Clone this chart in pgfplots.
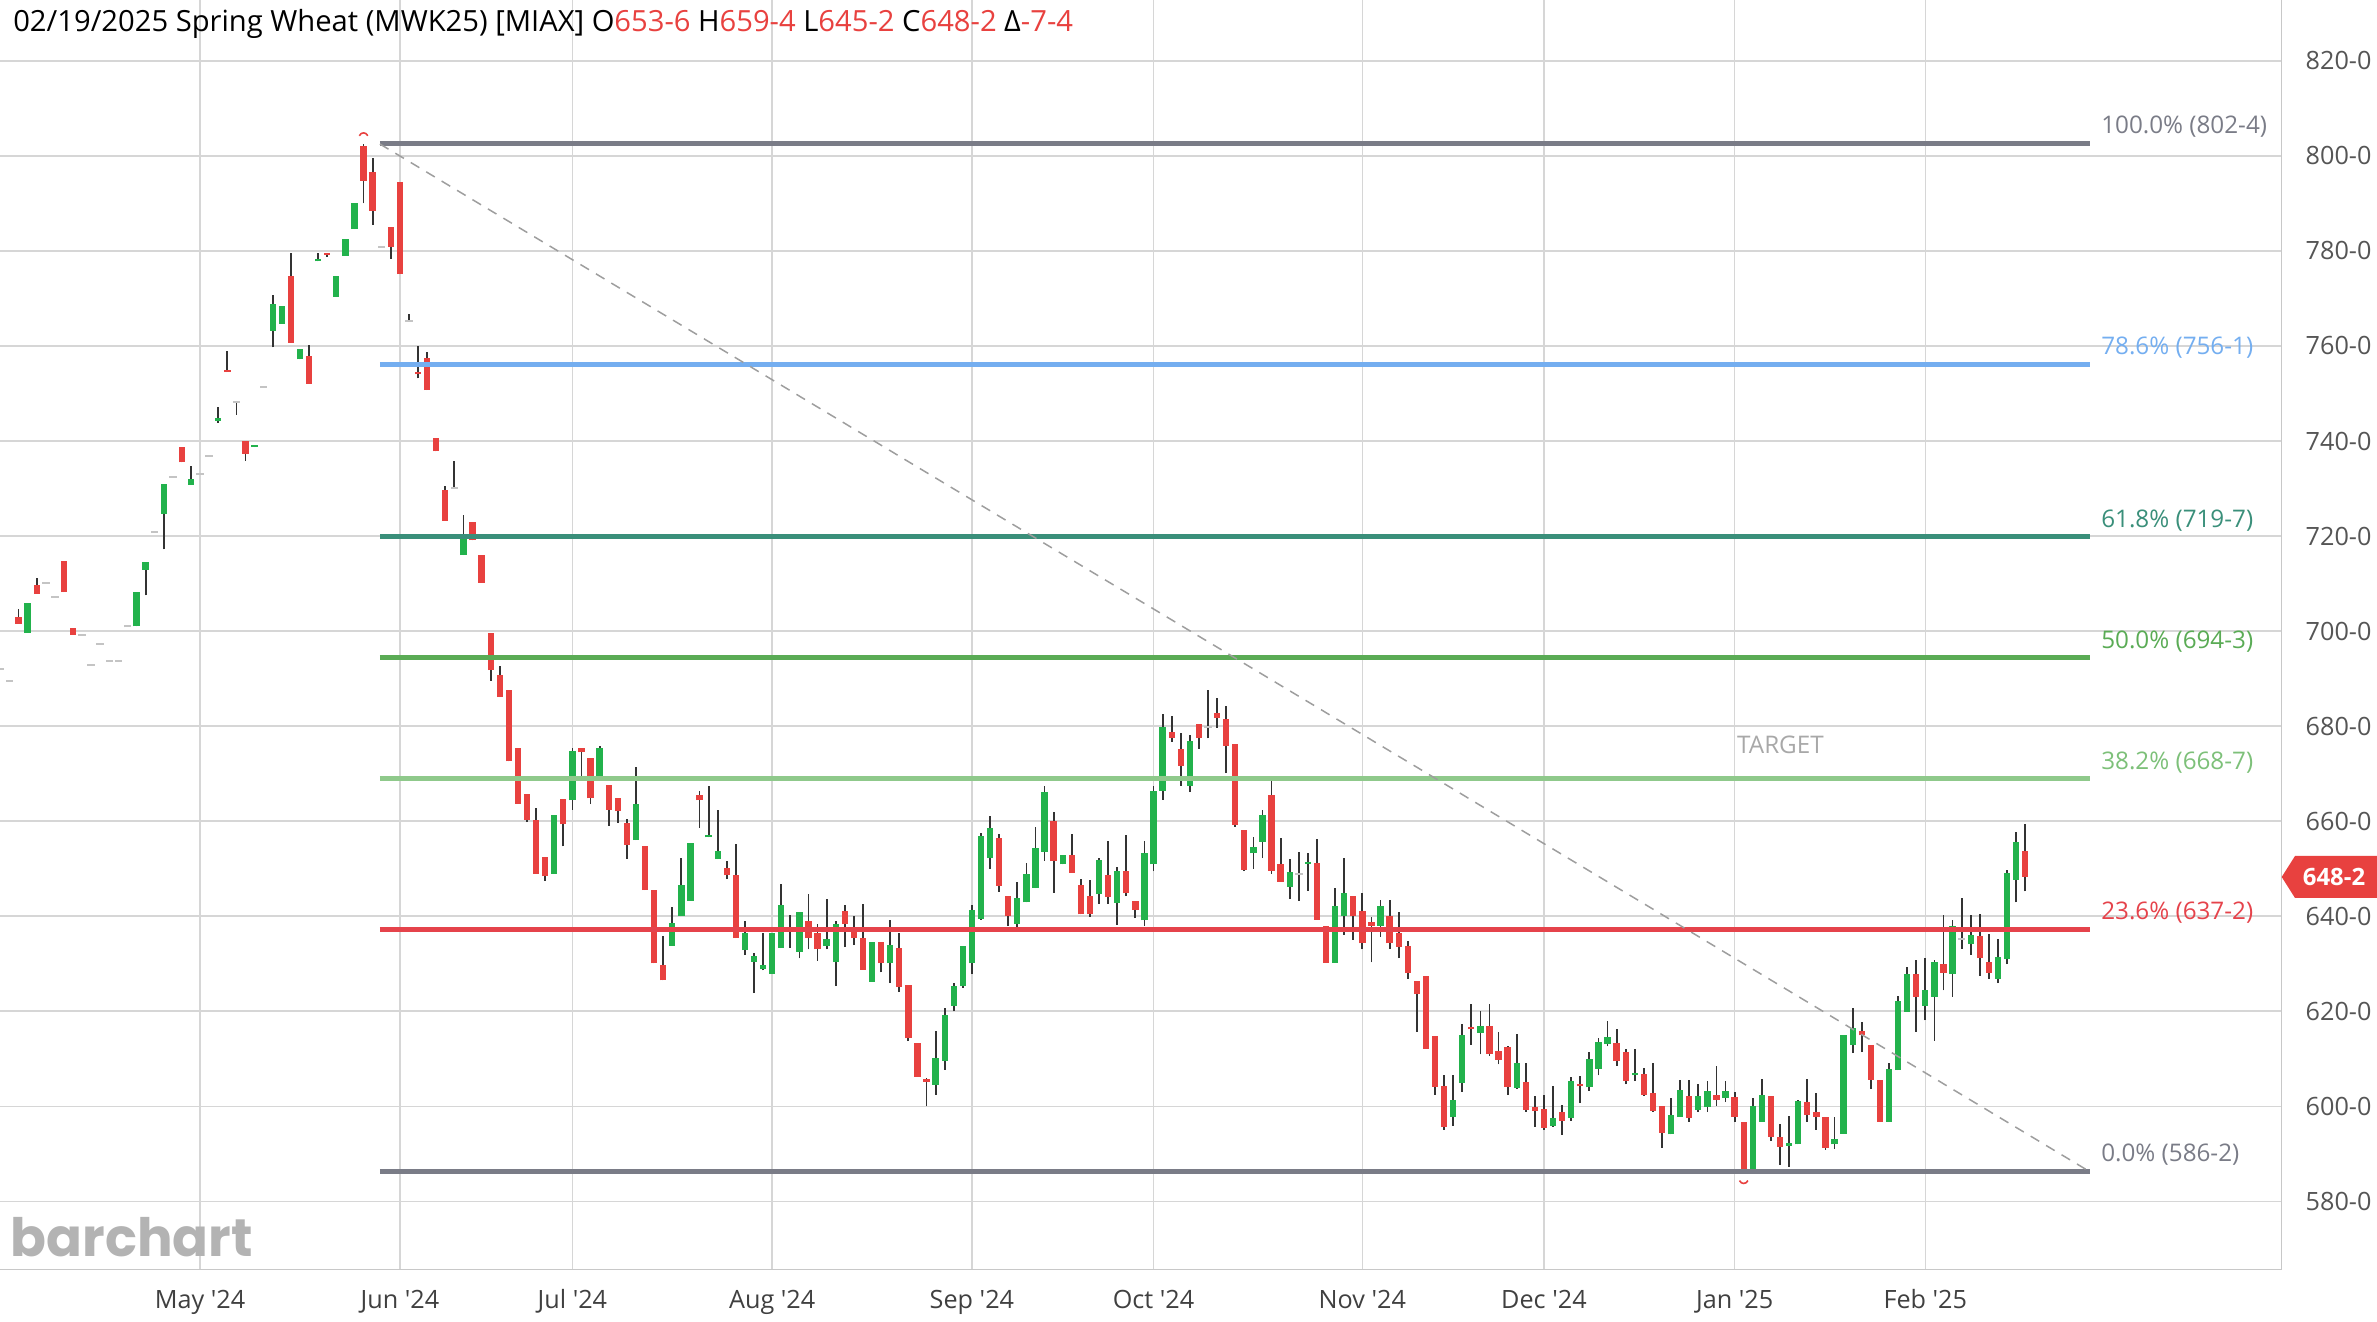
\documentclass[border=0pt]{standalone}
\usepackage{fontspec}
\setmainfont{Open Sans}
\newfontfamily\logofont{Poppins}
\usepackage{pgfplots}
\usepackage{pgfplotstable}
\pgfplotsset{compat=1.18}

\definecolor{upc}{HTML}{22B24C}
\definecolor{dnc}{HTML}{E8413F}
\definecolor{wick}{HTML}{333333}
\definecolor{flatc}{HTML}{C4C4C4}
\definecolor{gridc}{HTML}{D6D6D6}
\definecolor{axc}{HTML}{C8C8C8}
\definecolor{fibgray}{HTML}{7A7C87}
\definecolor{fibblue}{HTML}{74AEF0}
\definecolor{fibteal}{HTML}{3A8F7A}
\definecolor{fibgreen}{HTML}{5AAB55}
\definecolor{fiblgreen}{HTML}{8FC98B}
\definecolor{fiblgtext}{HTML}{7DC079}
\definecolor{fibred}{HTML}{E5434B}
\definecolor{ticktext}{HTML}{555555}
\definecolor{targetc}{HTML}{A8A8A8}
\definecolor{logoc}{HTML}{B3B3B3}

\pgfdeclareplotmark{capup}{%
  \pgfpathmoveto{\pgfqpoint{-1.2pt}{-0.5pt}}%
  \pgfpathcurveto{\pgfqpoint{-0.7pt}{0.6pt}}{\pgfqpoint{0.7pt}{0.6pt}}{\pgfqpoint{1.2pt}{-0.5pt}}%
  \pgfusepathqstroke}
\pgfdeclareplotmark{capdown}{%
  \pgfpathmoveto{\pgfqpoint{-1.2pt}{0.5pt}}%
  \pgfpathcurveto{\pgfqpoint{-0.7pt}{-0.6pt}}{\pgfqpoint{0.7pt}{-0.6pt}}{\pgfqpoint{1.2pt}{0.5pt}}%
  \pgfusepathqstroke}

% trading-day index (0 = 1 May 2024), open, high, low, close
\pgfplotstableread{
i o h l c
-22 692.1 692.1 692.1 692.1
-21 689.5 689.5 689.5 689.5
-20 702.9 704.6 701.5 701.5
-19 699.6 706.0 699.6 706.0
-18 709.8 711.2 707.9 707.9
-17 710.2 710.2 710.2 710.2
-16 707.2 707.2 707.2 707.2
-15 714.7 714.7 708.2 708.2
-14 700.7 700.7 699.2 699.2
-13 699.2 699.2 699.2 699.2
-12 692.8 692.8 692.8 692.8
-11 697.3 697.3 697.3 697.3
-10 693.7 693.7 693.7 693.7
-9 693.7 693.7 693.7 693.7
-8 701.0 701.0 701.0 701.0
-7 701.0 708.2 701.0 708.2
-6 712.9 714.6 707.5 714.6
-5 720.8 720.8 720.8 720.8
-4 724.7 730.9 717.2 730.9
-3 732.5 732.5 732.5 732.5
-2 738.7 738.7 735.5 735.5
-1 730.8 734.7 730.8 732.0
0 733.0 733.0 733.0 733.0
1 736.8 736.8 736.8 736.8
2 744.3 747.2 743.8 744.9
3 754.9 758.9 754.5 754.5
4 748.2 748.2 745.5 748.2
5 739.9 739.9 735.8 737.3
6 738.7 738.9 738.7 738.9
7 751.3 751.3 751.3 751.3
8 763.2 770.7 759.7 768.8
9 764.7 768.4 764.7 768.4
10 774.7 779.6 760.7 760.7
11 757.2 759.4 757.2 759.4
12 757.8 760.1 752.0 752.0
13 777.8 779.6 777.8 778.0
14 779.6 779.6 778.8 779.2
15 770.3 774.8 770.3 774.8
16 779.0 782.6 779.0 782.6
17 784.6 790.0 784.6 790.0
18 802.1 802.5 790.0 794.8
19 796.6 799.5 785.5 788.5
20 780.9 780.9 780.9 780.9
21 785.1 785.1 778.3 780.8
22 794.4 794.4 775.1 775.1
23 765.3 766.8 765.3 765.3
24 754.5 759.9 753.2 754.0
25 757.4 758.8 750.7 750.7
26 740.7 740.7 737.8 737.8
27 729.7 730.5 723.2 723.2
28 730.2 735.7 730.2 730.2
29 716.0 724.5 716.0 719.8
30 722.9 722.9 719.1 719.1
31 716.0 716.0 710.2 710.2
32 699.7 699.7 689.5 691.8
33 690.7 692.6 686.1 686.1
34 687.5 687.5 672.6 672.6
35 675.5 675.5 663.7 663.7
36 665.8 665.8 659.8 660.3
37 660.3 662.7 648.9 648.9
38 652.5 652.5 647.5 648.4
39 648.9 661.2 648.9 661.2
40 664.6 664.6 654.7 659.3
41 664.4 675.5 662.4 674.8
42 675.3 675.3 669.5 674.5
43 673.2 673.2 663.6 664.8
44 669.2 675.9 669.2 675.5
45 667.7 667.7 659.0 662.4
46 664.8 664.8 659.7 662.1
47 659.7 660.5 652.1 655.0
48 656.0 671.4 656.0 663.7
49 654.7 654.7 645.5 645.5
50 645.5 645.5 630.1 630.1
51 629.8 635.9 626.5 626.5
52 633.8 642.0 633.8 638.6
53 640.0 652.3 640.0 646.5
54 643.3 655.5 643.3 655.5
55 665.6 666.3 658.6 664.4
56 656.6 667.3 656.6 657.1
57 652.0 662.4 652.0 653.7
58 650.1 651.6 647.8 648.6
59 648.6 655.2 635.4 635.4
60 632.8 639.0 631.8 636.4
61 630.4 632.2 623.8 631.7
62 628.8 636.4 628.6 629.8
63 627.9 636.4 627.9 636.4
64 633.3 646.7 633.3 642.4
65 637.0 640.2 633.4 637.0
66 632.5 640.9 631.1 640.9
67 639.0 644.6 633.0 635.4
68 636.4 638.3 630.6 633.0
69 633.8 643.6 633.0 635.2
70 630.4 639.0 625.3 638.3
71 641.2 642.3 633.5 638.3
72 637.3 640.0 633.9 635.4
73 635.4 642.6 628.7 628.7
74 626.2 634.6 626.2 634.6
75 634.6 634.6 628.2 630.1
76 630.1 639.3 625.9 633.9
77 633.3 636.4 624.0 625.1
78 625.6 625.6 613.7 614.3
79 613.4 613.4 606.2 606.2
80 605.8 605.9 600.0 605.2
81 604.5 615.9 602.4 610.1
82 609.5 620.7 607.7 619.2
83 621.2 625.9 620.0 625.3
84 625.3 633.8 624.9 633.8
85 630.1 642.4 627.8 641.3
86 639.5 657.6 639.3 656.9
87 652.2 661.0 649.9 658.6
88 656.4 657.4 645.1 646.4
89 644.3 644.3 637.9 640.1
90 638.4 647.3 637.7 643.8
91 642.9 651.2 642.9 648.8
92 645.9 658.8 645.9 654.3
93 653.6 667.3 651.7 666.2
94 660.1 662.0 644.9 651.6
95 650.9 652.9 650.9 652.9
96 652.9 657.4 649.1 649.1
97 646.6 647.8 640.4 640.4
98 644.2 647.6 639.9 640.4
99 644.6 652.3 642.6 651.8
100 648.7 655.8 642.6 644.1
101 642.8 650.4 638.2 649.6
102 649.6 657.0 644.2 644.8
103 643.3 643.3 639.6 641.3
104 639.1 655.9 638.0 653.4
105 650.9 667.4 649.5 666.4
106 666.4 682.5 664.5 679.9
107 678.8 682.2 676.7 677.5
108 675.1 678.6 667.4 671.6
109 667.4 678.1 666.1 676.8
110 680.4 680.5 675.2 677.5
111 679.9 687.5 677.4 679.9
112 682.8 685.9 679.7 681.7
113 681.4 684.3 670.1 675.9
114 676.3 676.3 658.8 659.2
115 658.1 658.1 649.5 649.8
116 653.2 656.7 650.0 654.5
117 655.7 662.3 652.2 661.4
118 665.6 669.6 648.9 649.6
119 650.9 656.5 647.3 647.3
120 646.2 652.0 643.7 649.3
121 648.9 653.5 643.3 648.9
122 651.0 653.3 645.4 651.2
123 651.1 656.3 639.3 639.3
124 638.0 638.0 630.2 630.2
125 630.2 645.9 630.2 642.1
126 640.1 652.3 636.1 644.8
127 644.3 644.3 635.0 640.1
128 641.1 644.9 633.0 634.3
129 638.8 639.9 630.3 637.9
130 638.0 643.5 635.7 642.2
131 640.1 643.5 633.2 634.3
132 636.4 640.9 631.2 633.6
133 633.7 634.7 626.8 628.0
134 626.4 626.4 615.7 623.6
135 627.5 627.5 612.1 612.1
136 614.7 614.7 602.4 604.1
137 604.3 606.5 595.1 595.6
138 597.7 606.5 595.9 601.4
139 604.9 617.4 603.1 614.9
140 616.4 621.6 612.9 616.2
141 615.4 620.1 610.9 617.0
142 616.8 621.6 610.6 611.0
143 611.6 615.6 608.8 609.8
144 612.5 612.7 602.4 604.1
145 603.8 615.2 603.6 609.1
146 605.1 609.1 598.8 599.3
147 599.8 602.2 595.7 599.1
148 599.5 602.4 595.1 595.5
149 595.9 604.3 595.7 597.5
150 598.8 600.2 594.0 596.9
151 597.5 606.2 597.0 605.3
152 604.4 606.4 600.7 604.2
153 604.0 611.4 603.3 610.0
154 607.8 614.3 606.5 613.6
155 613.1 618.0 612.6 614.5
156 613.4 616.2 608.5 609.6
157 611.4 612.0 604.6 605.4
158 606.5 612.0 605.3 607.1
159 606.9 608.0 602.2 602.4
160 602.8 609.1 598.8 599.1
161 600.1 600.1 591.3 594.4
162 594.1 601.8 594.1 598.2
163 597.8 605.6 597.8 603.4
164 602.2 605.6 596.7 597.6
165 599.3 604.6 598.9 602.2
166 599.8 605.4 598.8 603.3
167 602.4 608.5 600.1 601.3
168 601.7 605.4 600.9 603.3
169 602.0 603.1 596.7 597.8
170 596.7 596.7 586.25 586.6
171 586.6 601.7 586.6 600.0
172 596.7 605.8 596.7 602.4
173 602.2 602.2 592.8 593.5
174 593.5 596.2 587.7 591.5
175 591.7 598.0 587.3 592.2
176 592.0 601.4 592.0 601.1
177 600.9 605.8 596.7 598.2
178 598.8 602.9 595.1 597.8
179 597.8 597.8 590.9 591.3
180 592.0 597.8 591.1 593.1
181 594.2 615.1 594.2 614.9
182 613.0 620.7 611.2 616.4
183 615.8 617.8 611.4 614.9
184 612.8 612.8 603.6 605.6
185 605.6 605.6 596.7 596.7
186 596.7 609.2 596.7 607.8
187 607.6 623.2 607.6 622.1
188 619.9 629.3 619.9 627.9
189 627.9 630.8 615.7 623.0
190 621.2 631.2 618.1 624.4
191 623.0 630.8 613.8 630.4
192 629.9 640.2 624.4 628.1
193 627.8 639.1 623.0 638.0
194 635.2 643.8 633.2 635.2
195 634.1 640.2 631.9 636.1
196 635.9 640.4 627.5 631.2
197 630.3 636.2 626.8 628.1
198 626.8 635.3 625.9 631.4
199 630.9 649.8 629.9 649.1
200 647.7 657.8 642.9 655.7
201 653.75 659.5 645.25 648.25
}\candles

\begin{document}
\begin{tikzpicture}
\useasboundingbox (0,0) rectangle (237.7mm,132.2mm);
\begin{axis}[
  at={(0mm,5.27mm)}, anchor=south west,
  scale only axis, width=228.17mm, height=126.93mm,
  xmin=-22.04, xmax=229.25, ymin=565.7, ymax=832.8,
  axis x line*=bottom, axis y line*=right,
  axis line style={-, draw=axc, line width=0.15mm},
  xtick={0,22,41,63,85,105,128,148,169,190},
  xticklabels={May \textquotesingle24, Jun \textquotesingle24, Jul \textquotesingle24, Aug \textquotesingle24, Sep \textquotesingle24, Oct \textquotesingle24, Nov \textquotesingle24, Dec \textquotesingle24, Jan \textquotesingle25, Feb \textquotesingle25},
  ytick={580,600,...,820},
  yticklabel={\pgfmathprintnumber[fixed,precision=0,1000 sep={},assume math mode=true]{\tick}-0},
  grid=major, major grid style={draw=gridc, line width=0.15mm},
  major tick length=0pt,
  yticklabel style={anchor=west, inner sep=0pt, xshift=2.33mm, font=\fontsize{7.17pt}{8pt}\selectfont, text=ticktext},
  xticklabel style={anchor=base, inner sep=0pt, yshift=-3.9mm, font=\fontsize{7.17pt}{8pt}\selectfont, text=black!75},
]
% wicks
\addplot[draw=none, mark=none, forget plot,
  error bars/.cd, y dir=plus, y explicit, error mark=none,
  error bar style={line width=0.18mm, draw=wick}]
  table[x=i, y=l, y error expr={\thisrow{h}-\thisrow{l}}] {\candles};
% up bodies
\addplot[draw=none, mark=none, forget plot,
  restrict expr to domain={\thisrow{c}-\thisrow{o}}{0.001:1000},
  error bars/.cd, y dir=plus, y explicit, error mark=none,
  error bar style={line width=0.63mm, draw=upc}]
  table[x=i, y expr={min(\thisrow{o},\thisrow{c})}, y error expr={max(abs(\thisrow{c}-\thisrow{o}),0.4)}] {\candles};
% down bodies
\addplot[draw=none, mark=none, forget plot,
  restrict expr to domain={\thisrow{c}-\thisrow{o}}{-1000:-0.001},
  error bars/.cd, y dir=plus, y explicit, error mark=none,
  error bar style={line width=0.63mm, draw=dnc}]
  table[x=i, y expr={min(\thisrow{o},\thisrow{c})}, y error expr={max(abs(\thisrow{c}-\thisrow{o}),0.4)}] {\candles};
% flat / unchanged days
\addplot[draw=none, mark=none, forget plot,
  restrict expr to domain={\thisrow{c}-\thisrow{o}}{-0.0005:0.0005},
  error bars/.cd, y dir=plus, y explicit, error mark=none,
  error bar style={line width=0.75mm, draw=flatc}]
  table[x=i, y expr={\thisrow{o}-0.2}, y error expr={0.4}] {\candles};
% high / low markers
\addplot[only marks, mark=capup, mark options={draw=dnc, line width=0.16mm}] coordinates {(18,804.6)};
\addplot[only marks, mark=capdown, mark options={draw=dnc, line width=0.16mm}] coordinates {(170,584.0)};
% fibonacci levels
\addplot[fibgray, line width=0.5mm] coordinates {(19.8,802.5) (208.1,802.5)};
\addplot[fibblue, line width=0.5mm] coordinates {(19.8,756.125) (208.1,756.125)};
\addplot[fibteal, line width=0.5mm] coordinates {(19.8,719.875) (208.1,719.875)};
\addplot[fibgreen, line width=0.5mm] coordinates {(19.8,694.375) (208.1,694.375)};
\addplot[fiblgreen, line width=0.5mm] coordinates {(19.8,668.875) (208.1,668.875)};
\addplot[fibred, line width=0.5mm] coordinates {(19.8,637.25) (208.1,637.25)};
\addplot[fibgray, line width=0.5mm] coordinates {(19.8,586.25) (208.1,586.25)};
% trend line
\addplot[draw=black!38, line width=0.15mm, dash pattern=on 1.0mm off 0.8mm] coordinates {(19.8,802.5) (208.1,586.25)};
% labels
\begin{scope}[font=\fontsize{6.9pt}{8pt}\selectfont]
\node[anchor=base west, inner sep=0pt, text=fibgray] at (axis cs:209.3,804.6) {100.0\% (802-4)};
\node[anchor=base west, inner sep=0pt, text=fibblue] at (axis cs:209.3,758.1) {78.6\% (756-1)};
\node[anchor=base west, inner sep=0pt, text=fibteal] at (axis cs:209.3,721.9) {61.8\% (719-7)};
\node[anchor=base west, inner sep=0pt, text=fibgreen] at (axis cs:209.3,696.4) {50.0\% (694-3)};
\node[anchor=base west, inner sep=0pt, text=fiblgtext] at (axis cs:209.3,670.9) {38.2\% (668-7)};
\node[anchor=base west, inner sep=0pt, text=fibred] at (axis cs:209.3,639.3) {23.6\% (637-2)};
\node[anchor=base west, inner sep=0pt, text=fibgray] at (axis cs:209.3,588.3) {0.0\% (586-2)};
\node[anchor=base west, inner sep=0pt, text=targetc] at (axis cs:169.2,674.2) {TARGET};
\end{scope}
\end{axis}
% header
\node[anchor=base west, inner sep=0pt, font=\fontsize{8.3pt}{9.5pt}\selectfont] at (1.26mm,129.03mm)
  {02/19/2025 Spring Wheat (MWK25) [MIAX] O\textcolor{dnc}{653-6} H\textcolor{dnc}{659-4} L\textcolor{dnc}{645-2} C\textcolor{dnc}{648-2} Δ\textcolor{dnc}{-7-4}};
% logo
\node[anchor=base west, inner sep=0pt, text=logoc] at (1.0mm,6.53mm)
  {\resizebox{24.2mm}{!}{\logofont\fontsize{20pt}{22pt}\selectfont\bfseries barchart}};
% last price tag
\fill[dnc] (228.17mm,44.5mm) -- (229.5mm,46.6mm) -- (237.7mm,46.6mm) -- (237.7mm,42.4mm) -- (229.5mm,42.4mm) -- cycle;
\node[text=white, inner sep=0pt, font=\fontsize{6.8pt}{8pt}\selectfont\bfseries] at (233.4mm,44.5mm) {648-2};
\end{tikzpicture}
\end{document}
